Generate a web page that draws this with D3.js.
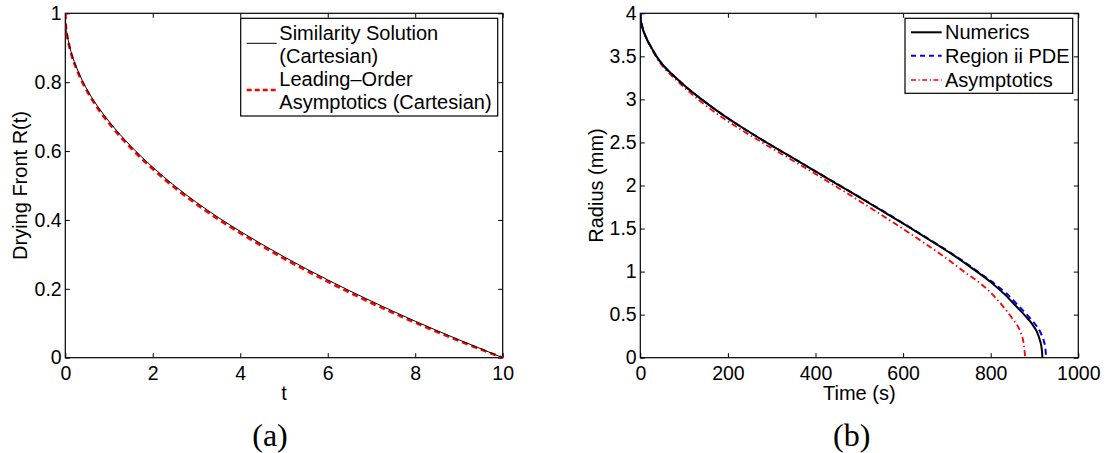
<!DOCTYPE html>
<html>
<head>
<meta charset="utf-8">
<script src="https://cdn.jsdelivr.net/npm/d3@7"></script>
<style>
  html, body { margin: 0; padding: 0; background: #fff; }
  svg { display: block; }
  text { font-family: "Liberation Sans", Arial, Helvetica, sans-serif; fill: #000; }
  .caption { font-family: "Liberation Serif", "Times New Roman", serif; }
</style>
</head>
<body>
<svg id="fig" width="1106" height="453"></svg>
<script>
// ---- Panel (a): drying front, Cartesian similarity solution vs leading-order asymptotics
const dryTime       = [0, 0.01, 0.03, 0.07, 0.15, 0.25, 0.35, 0.5, 0.75, 1, 1.5, 2, 2.5, 3, 3.5, 4, 5, 6, 7, 8, 9, 10];
const similarityR   = [1, 0.968, 0.947, 0.920, 0.880, 0.845, 0.815, 0.778, 0.728, 0.686, 0.614, 0.553, 0.499, 0.451, 0.407, 0.367, 0.293, 0.226, 0.164, 0.106, 0.052, 0];
const leadingOrderR = [1, 0.966, 0.944, 0.917, 0.876, 0.841, 0.811, 0.774, 0.723, 0.681, 0.609, 0.548, 0.494, 0.446, 0.402, 0.362, 0.288, 0.221, 0.159, 0.102, 0.049, 0];

// ---- Panel (b): drop radius versus time
const numericsTime   = [0, 1, 3, 7, 15, 25, 37, 55, 75, 100, 140, 190, 228, 292, 342, 400, 452, 500, 532, 570, 608, 650, 684, 720, 757, 802, 830, 859, 880, 894, 905, 911, 916, 917.5, 918];
const numericsRadius = [4.00, 3.93, 3.875, 3.80, 3.70, 3.605, 3.50, 3.38, 3.28, 3.165, 3.00, 2.815, 2.688, 2.488, 2.338, 2.164, 2.008, 1.864, 1.767, 1.651, 1.533, 1.401, 1.292, 1.174, 1.041, 0.870, 0.744, 0.593, 0.480, 0.395, 0.305, 0.225, 0.120, 0.05, 0];

const pdeTime   = [0, 1, 3, 7, 15, 25, 37, 55, 75, 100, 140, 190, 228, 292, 342, 400, 452, 500, 532, 570, 608, 650, 684, 720, 757, 782, 808, 836, 865, 888, 903, 914, 921, 925, 926.5];
const pdeRadius = [4.00, 3.93, 3.875, 3.80, 3.70, 3.605, 3.50, 3.38, 3.28, 3.165, 3.00, 2.815, 2.688, 2.488, 2.338, 2.165, 2.010, 1.867, 1.770, 1.655, 1.537, 1.406, 1.297, 1.180, 1.050, 0.958, 0.862, 0.745, 0.595, 0.470, 0.380, 0.290, 0.200, 0.100, 0];

const asymTime   = [0, 1, 3, 7, 15, 25, 37, 55, 75, 100, 132, 190, 228, 281, 342, 400, 437, 471, 532, 608, 650, 684, 707, 740, 776, 805, 829, 850, 867, 874, 877, 878.5];
const asymRadius = [4.00, 3.92, 3.865, 3.79, 3.69, 3.595, 3.485, 3.36, 3.26, 3.14, 3.00, 2.78, 2.655, 2.491, 2.308, 2.134, 2.019, 1.914, 1.719, 1.469, 1.326, 1.207, 1.124, 0.995, 0.865, 0.730, 0.590, 0.450, 0.310, 0.200, 0.100, 0];

// ---- Tick values
const aXTicks = [0, 2, 4, 6, 8, 10];
const aYTicks = [0, 0.2, 0.4, 0.6, 0.8, 1];
const bXTicks = [0, 200, 400, 600, 800, 1000];
const bYTicks = [0, 0.5, 1, 1.5, 2, 2.5, 3, 3.5, 4];

const svg = d3.select("#fig");
const TICK = 4.5;
const TICK_FONT = 19.5;
const LABEL_FONT = 20;

function zip(xs, ys) { return xs.map((x, i) => [x, ys[i]]); }

function panel(opts) {
  const { left, right, top, bottom, xDomain, yDomain, xTicks, yTicks, id } = opts;
  const x = d3.scaleLinear().domain(xDomain).range([left, right]);
  const y = d3.scaleLinear().domain(yDomain).range([bottom, top]);
  const g = svg.append("g");

  g.append("defs").append("clipPath").attr("id", id)
    .append("rect").attr("x", left).attr("y", top - 1)
    .attr("width", right - left).attr("height", bottom - top + 2);

  const fmt = d => d3.format("~g")(d);

  // bottom axis with labels, inward ticks
  g.append("g").attr("transform", `translate(0,${bottom})`)
    .call(d3.axisBottom(x).tickValues(xTicks).tickSize(-TICK).tickPadding(8.5).tickFormat(fmt))
    .call(a => a.select(".domain").remove())
    .call(a => a.selectAll("text").attr("font-size", TICK_FONT).attr("font-family", null));
  // top axis, ticks only
  g.append("g").attr("transform", `translate(0,${top})`)
    .call(d3.axisTop(x).tickValues(xTicks).tickSize(-TICK).tickFormat(""))
    .call(a => a.select(".domain").remove());
  // left axis with labels
  g.append("g").attr("transform", `translate(${left},0)`)
    .call(d3.axisLeft(y).tickValues(yTicks).tickSize(-TICK).tickPadding(3.6).tickFormat(fmt))
    .call(a => a.select(".domain").remove())
    .call(a => a.selectAll("text").attr("font-size", TICK_FONT).attr("font-family", null));
  // right axis, ticks only
  g.append("g").attr("transform", `translate(${right},0)`)
    .call(d3.axisRight(y).tickValues(yTicks).tickSize(-TICK).tickFormat(""))
    .call(a => a.select(".domain").remove());

  g.selectAll(".tick line").attr("stroke", "#000").attr("stroke-width", 1);

  // plot box
  g.append("rect").attr("x", left).attr("y", top)
    .attr("width", right - left).attr("height", bottom - top)
    .attr("fill", "none").attr("stroke", "#000").attr("stroke-width", 1.2);

  const plot = g.append("g").attr("clip-path", `url(#${id})`);
  return { g, plot, x, y };
}

function drawLine(p, data, style) {
  const line = d3.line().x(d => p.x(d[0])).y(d => p.y(d[1])).curve(d3.curveMonotoneX);
  p.plot.append("path").datum(data)
    .attr("d", line)
    .attr("fill", "none")
    .attr("stroke", style.color)
    .attr("stroke-width", style.width)
    .attr("stroke-dasharray", style.dash || null)
    .attr("stroke-linejoin", "round");
}

function legend(g, box, entries) {
  g.append("rect").attr("x", box.x).attr("y", box.y)
    .attr("width", box.w).attr("height", box.h)
    .attr("fill", "#fff").attr("stroke", "#000").attr("stroke-width", 1.2);
  entries.forEach(e => {
    if (e.line) {
      g.append("line").attr("x1", box.lx1).attr("x2", box.lx2)
        .attr("y1", e.line.y).attr("y2", e.line.y)
        .attr("stroke", e.line.color).attr("stroke-width", e.line.width)
        .attr("stroke-dasharray", e.line.dash || null);
    }
    g.append("text").attr("x", box.tx).attr("y", e.baseline)
      .attr("font-size", LABEL_FONT).text(e.text);
  });
}

// ================= Panel (a)
const styleSim  = { color: "#000", width: 1 };
const styleLead = { color: "#ff0000", width: 2.7, dash: "6,4" };

const pa = panel({ id: "clipA", left: 65.3, right: 502.7, top: 13.3, bottom: 357.7,
  xDomain: [0, 10], yDomain: [0, 1], xTicks: aXTicks, yTicks: aYTicks });
drawLine(pa, zip(dryTime, leadingOrderR), styleLead);
drawLine(pa, zip(dryTime, similarityR), styleSim);

pa.g.append("text").attr("x", (65.3 + 502.7) / 2).attr("y", 400)
  .attr("text-anchor", "middle").attr("font-size", LABEL_FONT).text("t");
pa.g.append("text").attr("transform", `translate(27,185.5) rotate(-90)`)
  .attr("text-anchor", "middle").attr("font-size", LABEL_FONT).text("Drying Front R(t)");

legend(pa.g, { x: 240.7, y: 18.3, w: 257, h: 97.7, lx1: 246.7, lx2: 276.7, tx: 279.3 }, [
  { text: "Similarity Solution", baseline: 40, line: { y: 43.3, ...styleSim } },
  { text: "(Cartesian)", baseline: 62.5 },
  { text: "Leading\u2013Order", baseline: 86, line: { y: 90, color: styleLead.color, width: styleLead.width, dash: "5,3" } },
  { text: "Asymptotics (Cartesian)", baseline: 109.3 }
]);

svg.append("text").attr("class", "caption").attr("x", 270).attr("y", 446)
  .attr("text-anchor", "middle").attr("font-size", 32).text("(a)");

// ================= Panel (b)
const styleNum  = { color: "#000", width: 2 };
const stylePde  = { color: "#0000ff", width: 2, dash: "6,4" };
const styleAsym = { color: "#ff0000", width: 1.8, dash: "6,3,1.5,3" };

const pb = panel({ id: "clipB", left: 640.3, right: 1078.3, top: 13.3, bottom: 357.7,
  xDomain: [0, 1000], yDomain: [0, 4], xTicks: bXTicks, yTicks: bYTicks });
drawLine(pb, zip(asymTime, asymRadius), styleAsym);
drawLine(pb, zip(pdeTime, pdeRadius), stylePde);
drawLine(pb, zip(numericsTime, numericsRadius), styleNum);

pb.g.append("text").attr("x", (640.3 + 1078.3) / 2).attr("y", 399.5)
  .attr("text-anchor", "middle").attr("font-size", LABEL_FONT).text("Time (s)");
pb.g.append("text").attr("transform", `translate(603,185.5) rotate(-90)`)
  .attr("text-anchor", "middle").attr("font-size", LABEL_FONT).text("Radius (mm)");

legend(pb.g, { x: 905, y: 18.3, w: 167.7, h: 75, lx1: 911, lx2: 941.7, tx: 945 }, [
  { text: "Numerics", baseline: 39, line: { y: 32.3, ...styleNum } },
  { text: "Region ii PDE", baseline: 63.3, line: { y: 55.7, color: stylePde.color, width: stylePde.width, dash: "5,4" } },
  { text: "Asymptotics", baseline: 86.7, line: { y: 80, color: styleAsym.color, width: 1.5, dash: "5,2.5,1.2,2.5" } }
]);

svg.append("text").attr("class", "caption").attr("x", 851.7).attr("y", 446)
  .attr("text-anchor", "middle").attr("font-size", 32).text("(b)");
</script>
</body>
</html>
